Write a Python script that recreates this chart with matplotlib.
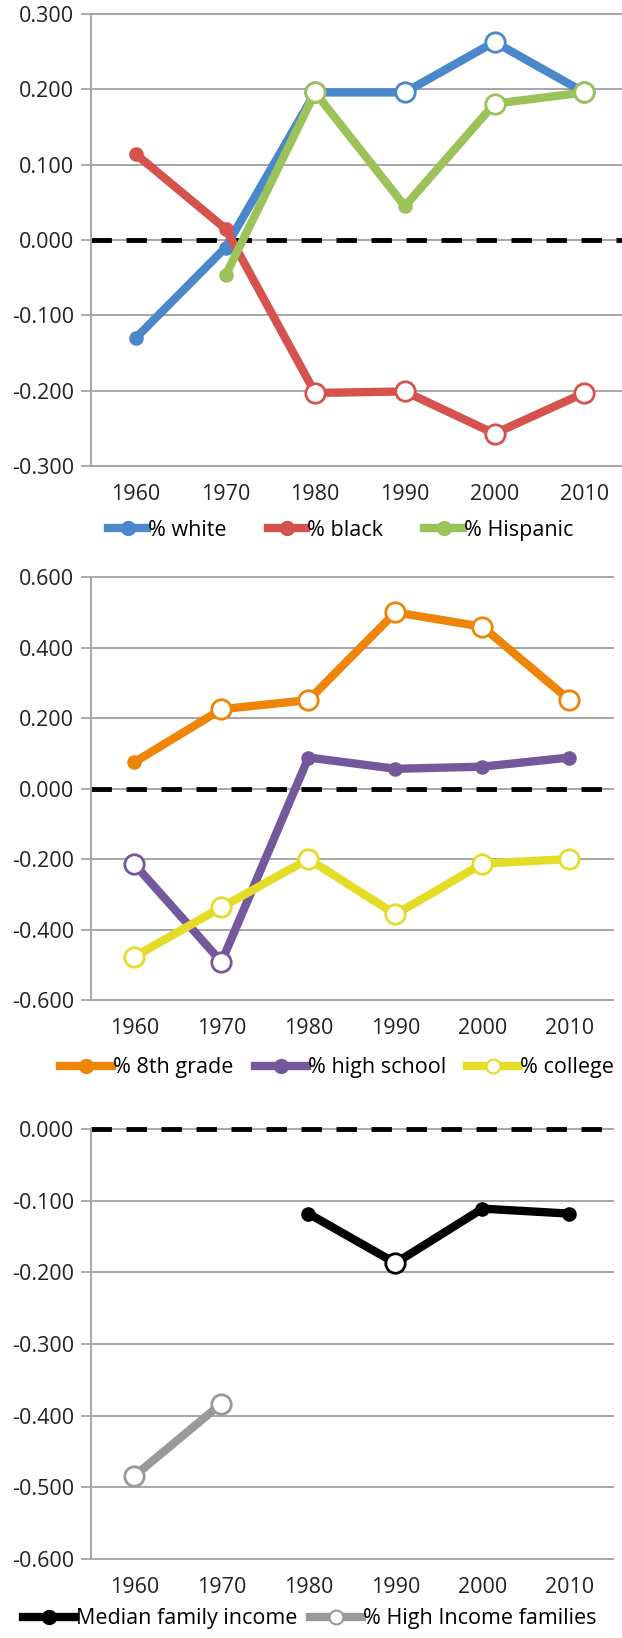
import matplotlib.pyplot as plt
from matplotlib.lines import Line2D

plt.rcParams['font.family'] = ['Open Sans', 'DejaVu Sans']

years = ['1960', '1970', '1980', '1990', '2000', '2010']
x = list(range(len(years)))

# panel 1 - race
white = [-0.130, -0.010, 0.196, 0.196, 0.263, 0.196]
white_hollow = [False, False, True, True, True, True]
black = [0.114, 0.015, -0.203, -0.201, -0.257, -0.203]
black_hollow = [False, False, True, True, True, True]
hispanic = [None, -0.047, 0.196, 0.045, 0.181, 0.196]
hispanic_hollow = [False, False, True, False, True, True]

# panel 2 - education
grade8 = [0.075, 0.225, 0.251, 0.500, 0.459, 0.251]
grade8_hollow = [False, True, True, True, True, True]
highschool = [-0.215, -0.492, 0.088, 0.056, 0.062, 0.088]
highschool_hollow = [True, True, False, False, False, False]
college = [-0.477, -0.337, -0.200, -0.357, -0.213, -0.200]
college_hollow = [True, True, True, True, True, True]

# panel 3 - income
median_inc = [None, None, -0.118, -0.187, -0.111, -0.118]
median_hollow = [False, False, False, True, False, False]
high_inc = [-0.484, -0.383, None, None, None, None]
high_hollow = [True, True, False, False, False, False]

yticks1 = [-0.3, -0.2, -0.1, 0.0, 0.1, 0.2, 0.3]
yticks2 = [-0.6, -0.4, -0.2, 0.0, 0.2, 0.4, 0.6]
yticks3 = [-0.6, -0.5, -0.4, -0.3, -0.2, -0.1, 0.0]

grid_col = '#a6a6a6'
fs = 15.5


def draw_series(ax, vals, hollow, col, z):
    xs = [i for i, v in zip(x, vals) if v is not None]
    ys = [v for v in vals if v is not None]
    ax.plot(xs, ys, color=col, lw=6, solid_capstyle='round', solid_joinstyle='round', zorder=z)
    for i, v, h in zip(x, vals, hollow):
        if v is None:
            continue
        if h:
            ax.plot(i, v, 'o', ms=14, mfc='white', mec=col, mew=2, zorder=z + 0.5)
        else:
            ax.plot(i, v, 'o', ms=10.5, mfc=col, mec=col, mew=0, zorder=z + 0.5)


def style_axis(ax, ticks):
    ax.set_xlim(-0.5, 5.5)
    ax.set_ylim(ticks[0], ticks[-1])
    ax.set_yticks(ticks)
    ax.set_yticklabels(['%.3f' % t for t in ticks], fontsize=fs, color='#222222')
    ax.set_xticks(x)
    ax.set_xticklabels(years, fontsize=fs, color='#222222')
    ax.tick_params(axis='x', length=0, pad=13)
    ax.tick_params(axis='y', length=7, width=1.3, color=grid_col, pad=5)
    for t in ticks:
        ax.axhline(t, color=grid_col, lw=1.4, zorder=1, clip_on=False)
    ax.axhline(0, color='black', lw=3.5, dashes=(4.2, 3.0), zorder=2, clip_on=False)
    for s in ['top', 'right', 'bottom']:
        ax.spines[s].set_visible(False)
    ax.spines['left'].set_color(grid_col)
    ax.spines['left'].set_linewidth(1.4)


def handle(col, hollow):
    if hollow:
        return Line2D([], [], color=col, lw=6, marker='o', ms=10, mfc='white', mec=col, mew=1.5)
    return Line2D([], [], color=col, lw=6, marker='o', ms=10, mfc=col, mec=col)


fig = plt.figure(figsize=(6.22, 16.38), dpi=100)

# panel 1
ax1 = fig.add_axes([0.1463, 0.7155, 0.865, 0.2759])
c_white, c_black, c_hisp = '#4a88cb', '#d5524d', '#9cc25a'
draw_series(ax1, white, white_hollow, c_white, 3)
draw_series(ax1, black, black_hollow, c_black, 4)
draw_series(ax1, hispanic, hispanic_hollow, c_hisp, 5)
style_axis(ax1, yticks1)
fig.legend([handle(c_white, False), handle(c_black, False), handle(c_hisp, False)],
           ['% white', '% black', '% Hispanic'], loc='center', bbox_to_anchor=(0.548, 0.6764),
           ncol=3, frameon=False, fontsize=fs, handlelength=1.8, handletextpad=0.05,
           columnspacing=1.9, borderpad=0)

# panel 2
ax2 = fig.add_axes([0.1463, 0.3895, 0.8392, 0.2582])
c_8, c_hs, c_col = '#ef8506', '#74589c', '#e4dc27'
draw_series(ax2, grade8, grade8_hollow, c_8, 3)
draw_series(ax2, highschool, highschool_hollow, c_hs, 4)
draw_series(ax2, college, college_hollow, c_col, 5)
style_axis(ax2, yticks2)
fig.legend([handle(c_8, False), handle(c_hs, False), handle(c_col, True)],
           ['% 8th grade', '% high school', '% college'], loc='center', bbox_to_anchor=(0.542, 0.348),
           ncol=3, frameon=False, fontsize=fs, handlelength=2.4, handletextpad=0.05,
           columnspacing=1.0, borderpad=0)

# panel 3
ax3 = fig.add_axes([0.1463, 0.0482, 0.8392, 0.2625])
c_med, c_high = '#000000', '#999999'
draw_series(ax3, median_inc, median_hollow, c_med, 3)
draw_series(ax3, high_inc, high_hollow, c_high, 4)
style_axis(ax3, yticks3)
fig.legend([handle(c_med, False), handle(c_high, True)],
           ['Median family income', '% High Income families'], loc='center',
           bbox_to_anchor=(0.498, 0.0116), ncol=2, frameon=False, fontsize=fs,
           handlelength=2.4, handletextpad=0.05, columnspacing=0.6, borderpad=0)

fig.savefig('out.png', dpi=100)
